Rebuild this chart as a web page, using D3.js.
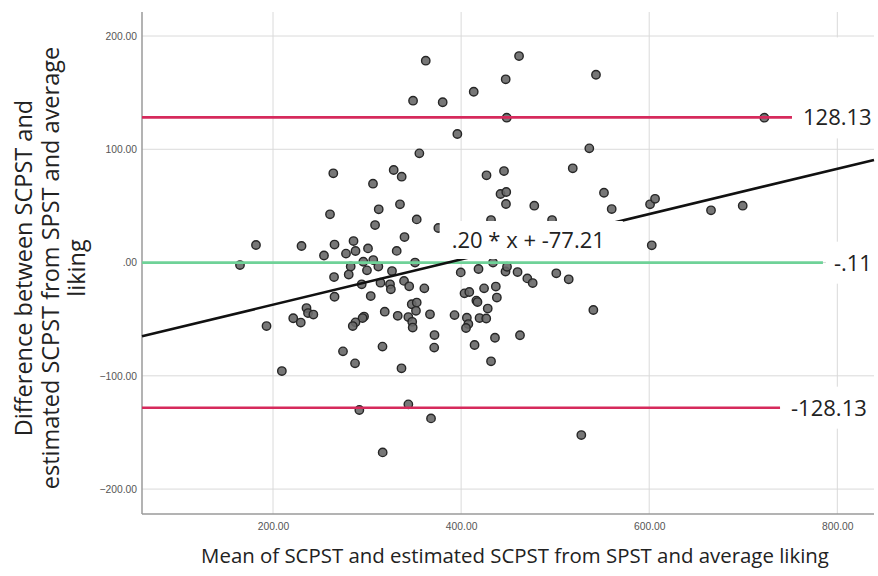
<!DOCTYPE html>
<html>
<head>
<meta charset="utf-8">
<script src="https://cdn.jsdelivr.net/npm/d3@7"></script>
<style>
  body { margin: 0; background: #fff; }
  svg { display: block; }
  .tick-label { font-family: "Liberation Sans", Arial, sans-serif; font-size: 10.3px; fill: #555; }
  .title { font-family: "Open Sans", sans-serif; fill: #222; }
  .ref-label { font-family: "Open Sans", sans-serif; font-size: 22px; fill: #222; }
</style>
</head>
<body>
<svg id="chart" width="878" height="576"></svg>
<script>
// ─── Datos ───────────────────────────────────────────────────────────────────

// Media de SCPST y SCPST estimado (eje X)
const meanX = [
  362.4, 461.6, 447.4, 543.4, 413.4, 348.9, 380.4, 448.5, 722.4, 396.0,
  536.3, 355.6, 518.7, 427.0, 445.6, 264.1, 328.3, 336.8, 306.3, 441.9,
  448.0, 447.7, 477.8, 551.9, 560.1, 600.9, 606.2, 665.7, 699.4, 335.0,
  312.4, 260.6, 308.5, 352.8, 339.8, 181.9, 230.3, 265.4, 285.6, 254.2,
  277.6, 287.7, 301.0, 331.5, 375.8, 431.8, 496.7, 602.7, 164.9, 282.6,
  296.0, 306.6, 312.0, 299.9, 326.5, 351.0, 280.5, 264.9, 399.6, 418.5,
  433.9, 447.2, 448.8, 460.0, 470.4, 476.1, 501.2, 514.4, 294.3, 314.3,
  324.4, 325.3, 339.3, 344.8, 360.9, 265.4, 303.9, 403.6, 408.7, 424.4,
  436.9, 438.0, 416.2, 417.4, 428.3, 347.5, 352.8, 352.0, 318.8, 332.6,
  296.8, 295.2, 287.7, 284.8, 343.9, 348.0, 348.5, 366.9, 393.0, 406.1,
  407.7, 405.2, 419.6, 426.7, 540.6, 235.6, 237.2, 242.9, 221.5, 229.5,
  193.1, 274.4, 287.2, 316.4, 371.7, 371.4, 414.3, 436.0, 462.6, 431.8,
  336.6, 209.4, 291.8, 343.9, 368.0, 316.6, 527.8
];

// Diferencia entre SCPST y SCPST estimado (eje Y)
const diffY = [
  178.2, 182.3, 161.8, 165.8, 150.8, 142.9, 141.5, 127.9, 127.9, 113.5,
  100.8, 96.4, 83.2, 77.0, 80.8, 78.8, 81.7, 75.8, 69.6, 60.5,
  62.3, 51.7, 50.2, 61.6, 47.2, 51.4, 56.3, 46.1, 50.2, 51.4,
  47.0, 42.6, 33.1, 38.1, 22.5, 15.5, 14.6, 15.9, 19.0, 6.2,
  7.9, 10.2, 12.5, 10.3, 30.5, 37.5, 37.5, 15.2, -2.2, -3.5,
  0.7, 2.2, -3.5, -6.9, -7.5, 0.0, -10.6, -12.8, -8.7, -5.7,
  0.0, -7.9, -3.7, -8.4, -14.0, -18.1, -9.5, -14.8, -19.2, -17.8,
  -19.2, -23.6, -16.2, -21.0, -22.8, -30.2, -29.6, -27.2, -26.0, -22.8,
  -21.2, -30.9, -33.6, -34.9, -40.6, -36.8, -35.3, -42.6, -43.4, -47.0,
  -47.7, -49.0, -52.8, -56.1, -48.1, -52.3, -57.4, -45.7, -46.4, -48.7,
  -54.3, -57.8, -49.0, -49.4, -41.9, -40.2, -44.6, -45.9, -49.2, -53.0,
  -56.1, -78.4, -89.0, -74.2, -64.0, -75.1, -72.8, -66.4, -64.2, -87.2,
  -93.4, -95.8, -130.2, -125.2, -137.6, -167.6, -152.3
];

// Líneas de referencia: límite superior, media, límite inferior
const refValues = [128.13, -0.11, -128.13];
const refLabels = ['128.13', '-.11', '-128.13'];
const refKinds  = ['limit', 'mean', 'limit'];

// Recta de regresión
const regSlope = 0.20;
const regIntercept = -77.21;
const regLabel = '.20 * x + -77.21';

// Ticks
const xTicks = [200, 400, 600, 800];
const yTicks = [-200, -100, 0, 100, 200];

const xTitle = 'Mean of SCPST and estimated SCPST from SPST and average liking';
const yTitleLines = ['Difference between SCPST and', 'estimated SCPST from SPST and average', 'liking'];

// ─── Layout ─────────────────────────────────────────────────────────────────

const W = 878, H = 576;
const M = { top: 12, right: 4, bottom: 62, left: 142 };

const COLORS = { limit: '#d62a5c', mean: '#6fd298', reg: '#111', grid: '#dadada', axis: '#9a9a9a' };
const REF_END = [751.8, 784.7, 739.1];      // fin de cada línea de referencia (unidades X)
const REF_BOX_TOP = [80, 21, 21];            // alto del recuadro blanco sobre el texto
const REG_LABEL_POS = { x: 390, y: 19.9 };   // inicio del texto de la recta (unidades de datos)

const svg = d3.select('#chart');

const x = d3.scaleLinear().domain([60.7, 839]).range([M.left, W - M.right]);
const y = d3.scaleLinear().domain([-222, 221.2]).range([H - M.bottom, M.top]);

const fmt = v => d3.format('.2f')(v).replace(/^0\./, '.').replace(/^-0\./, '-.');

// ─── Rejilla ────────────────────────────────────────────────────────────────

const grid = svg.append('g');
grid.selectAll('.gx').data(xTicks).join('line')
  .attr('x1', d => x(d)).attr('x2', d => x(d))
  .attr('y1', M.top).attr('y2', H - M.bottom)
  .attr('stroke', COLORS.grid).attr('stroke-width', 1);
grid.selectAll('.gy').data(yTicks).join('line')
  .attr('x1', M.left).attr('x2', W - M.right)
  .attr('y1', d => y(d)).attr('y2', d => y(d))
  .attr('stroke', COLORS.grid).attr('stroke-width', 1);

// Ejes
const yAxis = svg.append('g').attr('transform', `translate(${M.left},0)`)
  .call(d3.axisLeft(y).tickValues(yTicks).tickSize(0).tickPadding(5).tickFormat(fmt));
const xAxis = svg.append('g').attr('transform', `translate(0,${H - M.bottom})`)
  .call(d3.axisBottom(x).tickValues(xTicks).tickSize(0).tickPadding(9).tickFormat(fmt));
[xAxis, yAxis].forEach(a => {
  a.select('.domain').remove();
  a.selectAll('text').attr('class', 'tick-label').attr('fill', null);
});
svg.append('line')
  .attr('x1', M.left).attr('x2', M.left).attr('y1', M.top).attr('y2', H - M.bottom)
  .attr('stroke', COLORS.axis).attr('stroke-width', 1.5);
svg.append('line')
  .attr('x1', M.left).attr('x2', W - M.right).attr('y1', H - M.bottom).attr('y2', H - M.bottom)
  .attr('stroke', COLORS.axis).attr('stroke-width', 1.5);

// ─── Puntos ─────────────────────────────────────────────────────────────────

const points = meanX.map((mx, i) => ({ x: mx, y: diffY[i] }));
svg.append('g').selectAll('circle').data(points).join('circle')
  .attr('cx', d => x(d.x)).attr('cy', d => y(d.y))
  .attr('r', 4.2)
  .attr('fill', '#686868').attr('fill-opacity', 0.9)
  .attr('stroke', '#262626').attr('stroke-width', 1.4);

// ─── Líneas de referencia y regresión ───────────────────────────────────────

svg.append('g').selectAll('line').data(refValues).join('line')
  .attr('x1', M.left).attr('x2', (d, i) => x(REF_END[i]))
  .attr('y1', d => y(d)).attr('y2', d => y(d))
  .attr('stroke', (d, i) => COLORS[refKinds[i]])
  .attr('stroke-width', 2.6);

const [x0, x1] = x.domain();
svg.append('line')
  .attr('x1', x(x0)).attr('y1', y(regSlope * x0 + regIntercept))
  .attr('x2', x(x1)).attr('y2', y(regSlope * x1 + regIntercept))
  .attr('stroke', COLORS.reg).attr('stroke-width', 2.6);

// ─── Etiquetas con fondo blanco ─────────────────────────────────────────────

function boxedLabel(px, py, text, padTop, padBottom, padL, padR) {
  const g = svg.append('g');
  const rect = g.append('rect').attr('fill', '#fff');
  const t = g.append('text').attr('class', 'ref-label')
    .attr('x', px).attr('y', py).attr('dy', '0.36em').text(text);
  const len = t.node().getComputedTextLength();
  rect.attr('x', px - padL).attr('width', len + padL + padR)
    .attr('y', py - padTop).attr('height', padTop + padBottom);
}

refValues.forEach((v, i) => {
  boxedLabel(x(REF_END[i]) + 11, y(v), refLabels[i], REF_BOX_TOP[i], 21, 8, 8);
});
boxedLabel(x(REG_LABEL_POS.x), y(REG_LABEL_POS.y), regLabel, 19, 19, 12, 18);

// ─── Títulos ────────────────────────────────────────────────────────────────

svg.append('text').attr('class', 'title')
  .attr('x', 515).attr('y', 563)
  .attr('text-anchor', 'middle').attr('font-size', 20.4)
  .text(xTitle);

const yTitle = svg.append('text').attr('class', 'title')
  .attr('transform', 'translate(0,268) rotate(-90)')
  .attr('text-anchor', 'middle').attr('font-size', 23.5);
yTitleLines.forEach((line, i) => {
  yTitle.append('tspan').attr('x', 0).attr('y', 24 + i * 26.5)
    .attr('dy', '0.36em').text(line);
});
</script>
</body>
</html>
